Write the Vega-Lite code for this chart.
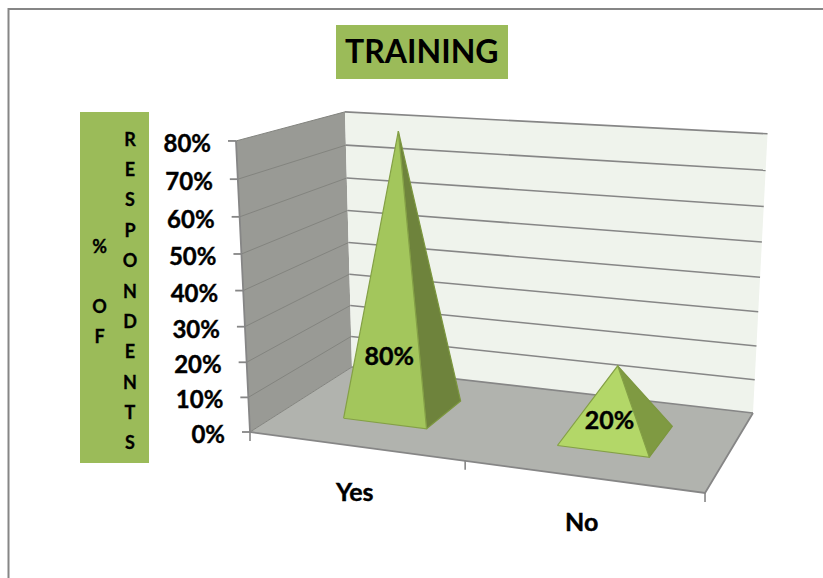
{
  "$schema": "https://vega.github.io/schema/vega-lite/v6.json",
  "width": 823,
  "height": 578,
  "padding": 0,
  "autosize": {"type": "fit", "contains": "padding"},
  "background": "white",
  "config": {"view": {"stroke": null}, "font": "Lato"},
  "title": {"text": "TRAINING", "anchor": "start", "frame": "group", "offset": 0, "dx": 345, "dy": 95, "baseline": "alphabetic", "font": "Lato", "fontSize": 32, "fontWeight": "bold", "color": "#000000", "zindex": 1},
  "resolve": {"scale": {"fill": "independent"}},
  "datasets": {
    "answers": [{"category": "Yes", "value": 80}, {"category": "No", "value": 20}],
    "levels": [{"level": 0}, {"level": 10}, {"level": 20}, {"level": 30}, {"level": 40}, {"level": 50}, {"level": 60}, {"level": 70}, {"level": 80}],
    "panels": [{"panel": "left"}, {"panel": "back"}, {"panel": "floor"}],
    "ticks": [{"slot": 0}, {"slot": 0.5}, {"slot": 1}]
  },
  "layer": [
    {
      "description": "outer chart border, running off the right and bottom edges",
      "data": {"values": [{"part": "border"}]},
      "mark": {"type": "rect", "fill": null, "stroke": "#868686", "strokeWidth": 2, "clip": true},
      "encoding": {
        "x": {"datum": 8.5, "type": "quantitative", "scale": {"domain": [0, 823], "nice": false, "zero": false}, "axis": null},
        "x2": {"datum": 840},
        "y": {"datum": 9, "type": "quantitative", "scale": {"domain": [578, 0], "nice": false, "zero": false}, "axis": null},
        "y2": {"datum": 600}
      }
    },
    {
      "description": "title plate",
      "data": {"values": [{"part": "title plate"}]},
      "mark": {"type": "rect", "fill": "#9BBB59"},
      "encoding": {
        "x": {"datum": 336, "type": "quantitative", "axis": null},
        "x2": {"datum": 508},
        "y": {"datum": 25, "type": "quantitative", "axis": null},
        "y2": {"datum": 79}
      }
    },
    {
      "description": "value axis title plate",
      "data": {"values": [{"part": "axis plate"}]},
      "mark": {"type": "rect", "fill": "#9BBB59"},
      "encoding": {
        "x": {"datum": 80, "type": "quantitative", "axis": null},
        "x2": {"datum": 149},
        "y": {"datum": 112, "type": "quantitative", "axis": null},
        "y2": {"datum": 463}
      }
    },
    {
      "description": "stacked axis title, first word",
      "data": {"values": [{"part": "axis title"}]},
      "mark": {"type": "text", "text": "%", "font": "Lato", "fontSize": 18, "fontWeight": "bold", "align": "center", "baseline": "alphabetic", "color": "#000000", "stroke": "#000000", "strokeWidth": 0.3},
      "encoding": {
        "x": {"datum": 99.5, "type": "quantitative", "axis": null},
        "y": {"datum": 252.5, "type": "quantitative", "axis": null}
      }
    },
    {
      "description": "stacked axis title, second word",
      "data": {"values": [{"part": "axis title"}]},
      "mark": {"type": "text", "text": ["O", "F"], "font": "Lato", "fontSize": 18, "fontWeight": "bold", "lineHeight": 30.4, "align": "center", "baseline": "alphabetic", "color": "#000000", "stroke": "#000000", "strokeWidth": 0.3},
      "encoding": {
        "x": {"datum": 99.5, "type": "quantitative", "axis": null},
        "y": {"datum": 312.8, "type": "quantitative", "axis": null}
      }
    },
    {
      "description": "stacked axis title, third word",
      "data": {"values": [{"part": "axis title"}]},
      "mark": {"type": "text", "text": ["R", "E", "S", "P", "O", "N", "D", "E", "N", "T", "S"], "font": "Lato", "fontSize": 18, "fontWeight": "bold", "lineHeight": 30.4, "align": "center", "baseline": "alphabetic", "color": "#000000", "stroke": "#000000", "strokeWidth": 0.3},
      "encoding": {
        "x": {"datum": 130, "type": "quantitative", "axis": null},
        "y": {"datum": 145.5, "type": "quantitative", "axis": null}
      }
    },
    {
      "description": "side wall, back wall and floor of the 3D box; u runs along the categories, v into the depth, t up the value axis",
      "data": {"name": "panels"},
      "transform": [
        {"calculate": "datum.panel=='left'?[{u:0,v:0,t:0,i:0},{u:0,v:1,t:0,i:1},{u:0,v:1,t:1,i:2},{u:0,v:0,t:1,i:3}]:datum.panel=='back'?[{u:0,v:1,t:0,i:0},{u:1,v:1,t:0,i:1},{u:1,v:1,t:1,i:2},{u:0,v:1,t:1,i:3}]:[{u:0,v:0,t:0,i:0},{u:1,v:0,t:0,i:1},{u:1,v:1,t:0,i:2},{u:0,v:1,t:0,i:3}]", "as": "c"},
        {"flatten": ["c"]},
        {"calculate": "1-0.103*datum.c.u+0.147*datum.c.v-0.055*datum.c.t", "as": "w"},
        {"calculate": "(250+382.4*datum.c.u+153.7*datum.c.v-27*datum.c.t)/datum.w", "as": "px"},
        {"calculate": "(432+10.2*datum.c.u-11.05*datum.c.v-298.8*datum.c.t)/datum.w", "as": "py"},
        {"calculate": "datum.c.i", "as": "i"}
      ],
      "mark": {"type": "line", "strokeWidth": 0, "interpolate": "linear"},
      "encoding": {
        "x": {"field": "px", "type": "quantitative", "axis": null},
        "y": {"field": "py", "type": "quantitative", "axis": null},
        "fill": {"field": "panel", "type": "nominal", "legend": null, "scale": {"domain": ["left", "back", "floor"], "range": ["#999A95", "#EFF3EC", "#B1B3AE"]}},
        "order": {"field": "i", "type": "quantitative"}
      }
    },
    {
      "description": "gridlines across the side wall",
      "data": {"name": "levels"},
      "transform": [
        {"calculate": "[{v:0,i:0},{v:1,i:1}]", "as": "c"},
        {"flatten": ["c"]},
        {"calculate": "datum.level/80", "as": "t"},
        {"calculate": "1+0.147*datum.c.v-0.055*datum.t", "as": "w"},
        {"calculate": "(250+153.7*datum.c.v-27*datum.t)/datum.w", "as": "px"},
        {"calculate": "(432-11.05*datum.c.v-298.8*datum.t)/datum.w", "as": "py"},
        {"calculate": "datum.c.i", "as": "i"}
      ],
      "mark": {"type": "line", "stroke": "#83847F", "strokeWidth": 1},
      "encoding": {
        "x": {"field": "px", "type": "quantitative", "axis": null},
        "y": {"field": "py", "type": "quantitative", "axis": null},
        "detail": {"field": "level"},
        "order": {"field": "i", "type": "quantitative"}
      }
    },
    {
      "description": "gridlines across the back wall",
      "data": {"name": "levels"},
      "transform": [
        {"calculate": "[{u:0,i:0},{u:1,i:1}]", "as": "c"},
        {"flatten": ["c"]},
        {"calculate": "datum.level/80", "as": "t"},
        {"calculate": "1-0.103*datum.c.u+0.147-0.055*datum.t", "as": "w"},
        {"calculate": "(250+382.4*datum.c.u+153.7-27*datum.t)/datum.w", "as": "px"},
        {"calculate": "(432+10.2*datum.c.u-11.05-298.8*datum.t)/datum.w", "as": "py"},
        {"calculate": "datum.c.i", "as": "i"}
      ],
      "mark": {"type": "line", "stroke": "#868686", "strokeWidth": 1.6},
      "encoding": {
        "x": {"field": "px", "type": "quantitative", "axis": null},
        "y": {"field": "py", "type": "quantitative", "axis": null},
        "detail": {"field": "level"},
        "order": {"field": "i", "type": "quantitative"}
      }
    },
    {
      "description": "box edges: the value axis line, then the front and right floor edges",
      "data": {"values": [{"edge": "axis"}]},
      "transform": [
        {"calculate": "[{u:0,v:0,t:1,i:0},{u:0,v:0,t:0,i:1},{u:1,v:0,t:0,i:2},{u:1,v:1,t:0,i:3}]", "as": "c"},
        {"flatten": ["c"]},
        {"calculate": "1-0.103*datum.c.u+0.147*datum.c.v-0.055*datum.c.t", "as": "w"},
        {"calculate": "(250+382.4*datum.c.u+153.7*datum.c.v-27*datum.c.t)/datum.w", "as": "px"},
        {"calculate": "(432+10.2*datum.c.u-11.05*datum.c.v-298.8*datum.c.t)/datum.w", "as": "py"},
        {"calculate": "datum.c.i", "as": "i"}
      ],
      "mark": {"type": "line", "stroke": "#868686", "strokeWidth": 1.8},
      "encoding": {
        "x": {"field": "px", "type": "quantitative", "axis": null},
        "y": {"field": "py", "type": "quantitative", "axis": null},
        "order": {"field": "i", "type": "quantitative"}
      }
    },
    {
      "description": "value axis ticks",
      "data": {"name": "levels"},
      "transform": [
        {"calculate": "datum.level/80", "as": "t"},
        {"calculate": "1-0.055*datum.t", "as": "w"},
        {"calculate": "(250-27*datum.t)/datum.w", "as": "px"},
        {"calculate": "datum.px-8", "as": "px0"},
        {"calculate": "(432-298.8*datum.t)/datum.w", "as": "py"}
      ],
      "mark": {"type": "rule", "stroke": "#868686", "strokeWidth": 1.8},
      "encoding": {
        "x": {"field": "px0", "type": "quantitative", "axis": null},
        "x2": {"field": "px"},
        "y": {"field": "py", "type": "quantitative", "axis": null}
      }
    },
    {
      "description": "value axis labels",
      "data": {"name": "levels"},
      "transform": [
        {"calculate": "datum.level/80", "as": "t"},
        {"calculate": "1-0.055*datum.t", "as": "w"},
        {"calculate": "(250-27*datum.t)/datum.w", "as": "px"},
        {"calculate": "(432-298.8*datum.t)/datum.w", "as": "py"},
        {"calculate": "datum.level+'%'", "as": "label"}
      ],
      "mark": {"type": "text", "align": "right", "baseline": "middle", "dx": -25, "dy": 4, "font": "Lato", "fontSize": 24, "fontWeight": "bold", "color": "#000000", "stroke": "#000000", "strokeWidth": 0.4},
      "encoding": {
        "x": {"field": "px", "type": "quantitative", "axis": null},
        "y": {"field": "py", "type": "quantitative", "axis": null},
        "text": {"field": "label"}
      }
    },
    {
      "description": "category axis ticks on the floor's front edge",
      "data": {"name": "ticks"},
      "transform": [
        {"calculate": "1-0.103*datum.slot", "as": "w"},
        {"calculate": "(250+382.4*datum.slot)/datum.w", "as": "px"},
        {"calculate": "(432+10.2*datum.slot)/datum.w", "as": "py"},
        {"calculate": "datum.py+9", "as": "py1"}
      ],
      "mark": {"type": "rule", "stroke": "#868686", "strokeWidth": 1.6},
      "encoding": {
        "x": {"field": "px", "type": "quantitative", "axis": null},
        "y": {"field": "py", "type": "quantitative", "axis": null},
        "y2": {"field": "py1"}
      }
    },
    {
      "description": "category labels under the floor",
      "data": {"name": "answers"},
      "transform": [
        {"calculate": "datum.category=='Yes'?0.25:0.75", "as": "u"},
        {"calculate": "1-0.103*datum.u", "as": "w"},
        {"calculate": "(250+382.4*datum.u)/datum.w", "as": "px"},
        {"calculate": "(432+10.2*datum.u)/datum.w", "as": "py"}
      ],
      "mark": {"type": "text", "align": "center", "baseline": "middle", "dy": 46.5, "font": "Lato", "fontSize": 25, "fontWeight": "bold", "color": "#000000", "stroke": "#000000", "strokeWidth": 0.4},
      "encoding": {
        "x": {"field": "px", "type": "quantitative", "axis": null},
        "y": {"field": "py", "type": "quantitative", "axis": null},
        "text": {"field": "category"}
      }
    },
    {
      "description": "right-hand pyramid faces, height taken from each value",
      "data": {"name": "answers"},
      "transform": [
        {"calculate": "[{du:0.1,dv:-0.2,h:0,i:0},{du:0.1,dv:0.2,h:0,i:1},{du:0,dv:0,h:1,i:2},{du:0.1,dv:-0.2,h:0,i:3}]", "as": "c"},
        {"flatten": ["c"]},
        {"calculate": "(datum.category=='Yes'?0.25:0.75)+datum.c.du", "as": "u"},
        {"calculate": "0.5+datum.c.dv", "as": "v"},
        {"calculate": "datum.c.h*datum.value/80", "as": "t"},
        {"calculate": "1-0.103*datum.u+0.147*datum.v-0.055*datum.t", "as": "w"},
        {"calculate": "(250+382.4*datum.u+153.7*datum.v-27*datum.t)/datum.w", "as": "px"},
        {"calculate": "(432+10.2*datum.u-11.05*datum.v-298.8*datum.t)/datum.w", "as": "py"},
        {"calculate": "datum.c.i", "as": "i"}
      ],
      "mark": {"type": "line", "stroke": "#7C973F", "strokeWidth": 1.2},
      "encoding": {
        "x": {"field": "px", "type": "quantitative", "axis": null},
        "y": {"field": "py", "type": "quantitative", "axis": null},
        "fill": {"field": "category", "type": "nominal", "legend": null, "scale": {"domain": ["Yes", "No"], "range": ["#6E833C", "#7F9A42"]}},
        "order": {"field": "i", "type": "quantitative"}
      }
    },
    {
      "description": "front pyramid faces",
      "data": {"name": "answers"},
      "transform": [
        {"calculate": "[{du:-0.1,dv:-0.2,h:0,i:0},{du:0.1,dv:-0.2,h:0,i:1},{du:0,dv:0,h:1,i:2},{du:-0.1,dv:-0.2,h:0,i:3}]", "as": "c"},
        {"flatten": ["c"]},
        {"calculate": "(datum.category=='Yes'?0.25:0.75)+datum.c.du", "as": "u"},
        {"calculate": "0.5+datum.c.dv", "as": "v"},
        {"calculate": "datum.c.h*datum.value/80", "as": "t"},
        {"calculate": "1-0.103*datum.u+0.147*datum.v-0.055*datum.t", "as": "w"},
        {"calculate": "(250+382.4*datum.u+153.7*datum.v-27*datum.t)/datum.w", "as": "px"},
        {"calculate": "(432+10.2*datum.u-11.05*datum.v-298.8*datum.t)/datum.w", "as": "py"},
        {"calculate": "datum.c.i", "as": "i"}
      ],
      "mark": {"type": "line", "stroke": "#84A046", "strokeWidth": 1.2},
      "encoding": {
        "x": {"field": "px", "type": "quantitative", "axis": null},
        "y": {"field": "py", "type": "quantitative", "axis": null},
        "fill": {"field": "category", "type": "nominal", "legend": null, "scale": {"domain": ["Yes", "No"], "range": ["#A3C65C", "#B3D768"]}},
        "order": {"field": "i", "type": "quantitative"}
      }
    },
    {
      "description": "value labels on the pyramid fronts",
      "data": {"name": "answers"},
      "transform": [
        {"calculate": "datum.category=='Yes'?0.25:0.75", "as": "u"},
        {"calculate": "0.0615+0.00227*datum.value", "as": "t"},
        {"calculate": "1-0.103*datum.u+0.0441-0.055*datum.t", "as": "w"},
        {"calculate": "(250+382.4*datum.u+46.1-27*datum.t)/datum.w", "as": "px"},
        {"calculate": "(432+10.2*datum.u-3.3-298.8*datum.t)/datum.w", "as": "py"},
        {"calculate": "datum.value+'%'", "as": "label"}
      ],
      "mark": {"type": "text", "align": "center", "baseline": "middle", "dx": 6, "dy": 0, "font": "Lato", "fontSize": 25, "fontWeight": "bold", "color": "#000000", "stroke": "#000000", "strokeWidth": 0.4},
      "encoding": {
        "x": {"field": "px", "type": "quantitative", "axis": null},
        "y": {"field": "py", "type": "quantitative", "axis": null},
        "text": {"field": "label"}
      }
    }
  ]
}
